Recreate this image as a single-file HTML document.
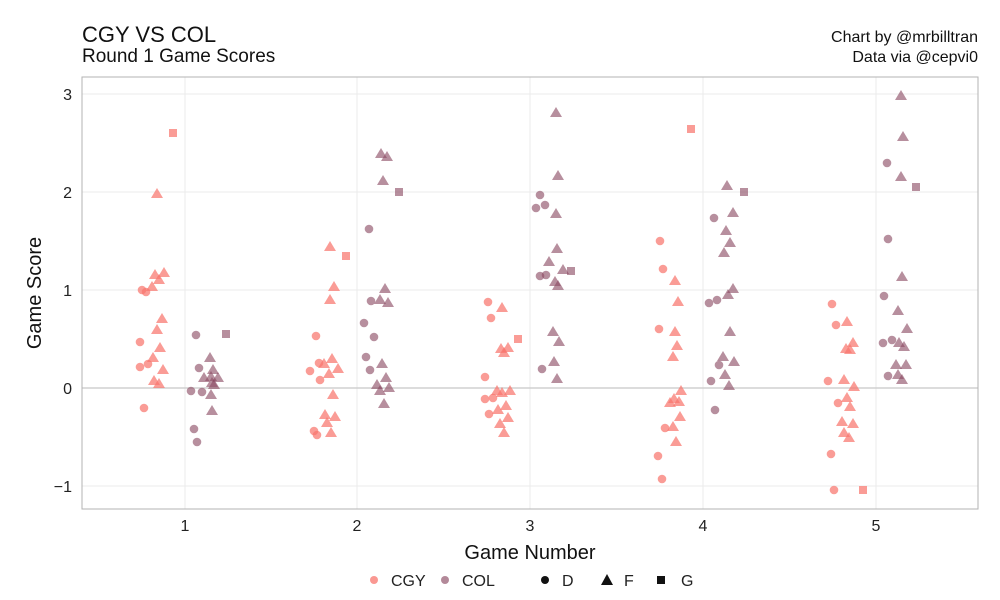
<!DOCTYPE html>
<html><head><meta charset="utf-8"><style>
body{margin:0;background:#fff;}
svg{display:block;font-family:"Liberation Sans",sans-serif;}
</style></head><body>
<svg id="s" width="1000" height="600" xmlns="http://www.w3.org/2000/svg">
<rect width="1000" height="600" fill="#fff"/>
<g stroke="#ebebeb" stroke-width="1">
<line x1="82" x2="978" y1="94" y2="94"/><line x1="82" x2="978" y1="192" y2="192"/><line x1="82" x2="978" y1="290" y2="290"/><line x1="82" x2="978" y1="486" y2="486"/>
<line x1="185" x2="185" y1="77" y2="509"/><line x1="357" x2="357" y1="77" y2="509"/><line x1="530" x2="530" y1="77" y2="509"/><line x1="703" x2="703" y1="77" y2="509"/><line x1="876" x2="876" y1="77" y2="509"/>
</g>
<line x1="82" x2="978" y1="388" y2="388" stroke="#d0d0d0" stroke-width="1.5"/>
<rect x="82" y="77" width="896" height="432" fill="none" stroke="#b3b3b3"/>
<g font-size="16" fill="#222" text-anchor="end">
<text x="72" y="100">3</text><text x="72" y="198">2</text><text x="72" y="296">1</text><text x="72" y="394">0</text><text x="72" y="492">−1</text>
</g>
<g font-size="16" fill="#222" text-anchor="middle">
<text x="185" y="531">1</text><text x="357" y="531">2</text><text x="530" y="531">3</text><text x="703" y="531">4</text><text x="876" y="531">5</text>
</g>
<text x="530" y="559" font-size="20" text-anchor="middle" fill="#111">Game Number</text>
<text transform="translate(41,293) rotate(-90)" font-size="20" text-anchor="middle" fill="#111">Game Score</text>
<text x="82" y="42" font-size="22" fill="#111">CGY VS COL</text>
<text x="82" y="62" font-size="19" fill="#111">Round 1 Game Scores</text>
<text x="978" y="42" font-size="16" text-anchor="end" fill="#111">Chart by @mrbilltran</text>
<text x="978" y="62" font-size="16" text-anchor="end" fill="#111">Data via @cepvi0</text>
<g font-size="16" fill="#222">
<circle cx="374" cy="580" r="4" fill="#F8766D" opacity="0.75"/><text x="391" y="586">CGY</text>
<circle cx="445" cy="580" r="4" fill="#8b4a63" opacity="0.65"/><text x="462" y="586">COL</text>
<circle cx="545" cy="580" r="4" fill="#111"/><text x="562" y="586">D</text>
<polygon points="607,574 613,585 601,585" fill="#111"/><text x="624" y="586">F</text>
<rect x="657" y="576" width="8" height="8" fill="#111"/><text x="681" y="586">G</text>
</g>
<g id="pts"></g>
</svg>
<script>
const R="#F8766D",C="#8b4a63";
const data={
R:{c:[[142,290],[146,292],[140,342],[140,367],[148,364],[144,408],[316,336],[319,363],[310,371],[320,380],[314,431],[317,435],[488,302],[491,318],[485,377],[485,399],[493,398],[489,414],[660,241],[663,269],[659,329],[665,428],[658,456],[662,479],[832,304],[836,325],[828,381],[838,403],[831,454],[834,490]],
t:[[157,194],[155,275],[164,273],[159,280],[152,287],[162,319],[157,330],[160,348],[153,358],[163,370],[154,381],[159,384],[330,247],[334,287],[330,300],[332,359],[324,364],[338,369],[329,374],[333,395],[325,415],[335,417],[327,423],[331,433],[502,308],[501,349],[508,348],[504,353],[497,391],[502,393],[510,391],[506,406],[498,410],[508,418],[500,424],[504,433],[675,281],[678,302],[675,332],[677,346],[673,357],[681,391],[670,403],[674,399],[679,402],[680,417],[673,427],[676,442],[847,322],[853,343],[846,349],[850,350],[844,380],[854,387],[847,398],[850,407],[842,422],[853,424],[844,433],[849,438]],
s:[[173,133],[346,256],[518,339],[691,129],[863,490]]},
C:{c:[[196,335],[199,368],[191,391],[202,392],[194,429],[197,442],[369,229],[371,301],[364,323],[374,337],[366,357],[370,370],[540,195],[536,208],[545,205],[540,276],[546,275],[542,369],[714,218],[709,303],[717,300],[719,365],[711,381],[715,410],[887,163],[888,239],[884,296],[883,343],[892,340],[888,376]],
t:[[210,358],[213,370],[204,378],[211,377],[218,378],[212,383],[214,385],[211,395],[212,411],[381,154],[387,157],[383,181],[385,289],[380,300],[388,303],[382,364],[386,378],[377,385],[389,388],[380,391],[384,404],[556,113],[558,176],[556,214],[557,249],[549,262],[563,270],[555,282],[558,286],[553,332],[559,342],[554,362],[557,379],[727,186],[733,213],[726,231],[730,243],[724,253],[733,289],[728,295],[730,332],[723,357],[734,362],[725,375],[729,386],[901,96],[903,137],[901,177],[902,277],[898,311],[907,329],[899,343],[904,347],[896,365],[906,365],[898,375],[902,380]],
s:[[226,334],[399,192],[571,271],[744,192],[916,187]]}};
let h="";
for(const k of ["R","C"]){const f=k=="R"?R:C,o=k=="R"?0.72:0.62;
for(const [x,y] of data[k].c)h+=`<circle cx="${x}" cy="${y}" r="4.3" fill="${f}" opacity="${o}"/>`;
for(const [x,y] of data[k].t)h+=`<polygon points="${x},${y-6} ${x+6},${y+4} ${x-6},${y+4}" fill="${f}" opacity="${o}"/>`;
for(const [x,y] of data[k].s)h+=`<rect x="${x-4}" y="${y-4}" width="8" height="8" fill="${f}" opacity="${o}"/>`;}
document.getElementById("pts").innerHTML=h;
</script>
</body></html>
